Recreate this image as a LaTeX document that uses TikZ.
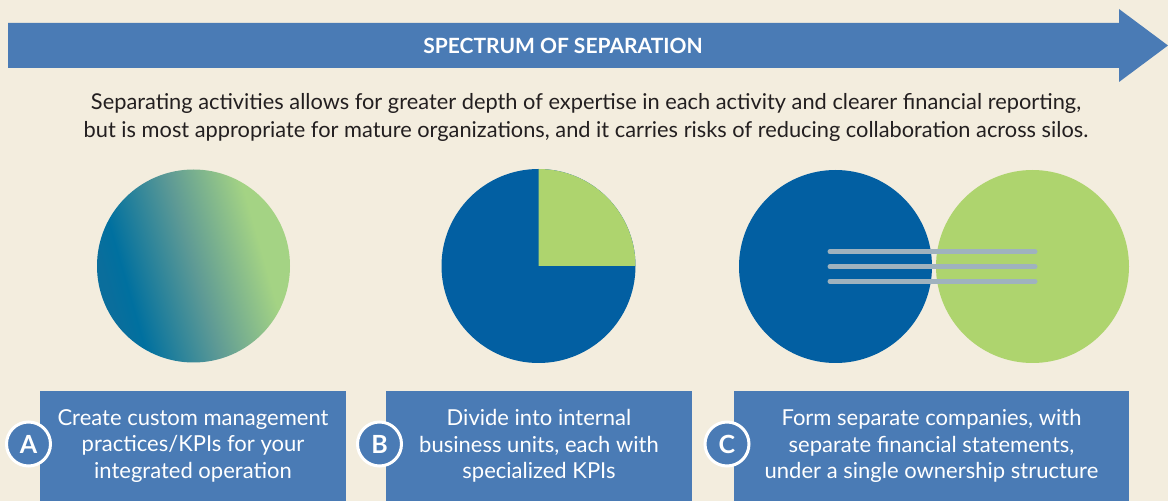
\documentclass[tikz,border=0pt]{standalone}
\usepackage{fontspec}
\setmainfont{Lato}
\definecolor{cream}{HTML}{F3EDDE}
\definecolor{boxblue}{HTML}{4A7BB5}
\definecolor{circblue}{HTML}{025FA2}
\definecolor{circgreen}{HTML}{AED46E}
\definecolor{gradedge}{HTML}{0A6E9C}
\definecolor{gradblue}{HTML}{00709F}
\definecolor{gradmid}{HTML}{5E9A95}
\definecolor{gradgreen}{HTML}{A4D384}
\definecolor{barline}{HTML}{9FB2BE}
\definecolor{ink}{HTML}{231F20}
\pgfdeclarehorizontalshading{sepgrad}{100bp}{color(0bp)=(gradedge); color(27bp)=(gradedge); color(32bp)=(gradblue); color(50bp)=(gradmid); color(68bp)=(gradgreen); color(100bp)=(gradgreen)}
\begin{document}
\begin{tikzpicture}[x=1pt,y=1pt,
  box/.style={fill=boxblue,text=white,minimum height=110pt,inner sep=0pt,align=center,font=\fontsize{22}{26.5}\selectfont},
  tag/.style={circle,fill=boxblue,draw=white,line width=3pt,minimum size=44pt,inner sep=0pt,text=white,font=\fontsize{25}{25}\selectfont\bfseries},
  bar/.style={barline,line width=5pt,line cap=round}]
\fill[cream](0,0) rectangle (1168,501);
\fill[boxblue](8,478)--(1119,478)--(1119,492)--(1168,455.5)--(1119,419)--(1119,433)--(8,433)--cycle;
\node[text=white,font=\fontsize{21}{21}\selectfont\bfseries] (title) at (563,455.5) {SPECTRUM OF SEPARATION};
\node[text=ink,align=center,font=\fontsize{21.8}{28}\selectfont] (intro) at (586,384) {Separating activities allows for greater depth of expertise in each activity and clearer financial reporting,\\but is most appropriate for mature organizations, and it carries risks of reducing collaboration across silos.};
\shade[shading=sepgrad,shading angle=16](193.5,235) circle (96.5);
\fill[circblue](538.5,235) circle (97);
\fill[circgreen](538.5,235)--++(97,0) arc (0:90:97)--cycle;
\fill[circblue](835.5,234.5) circle (96.5);
\fill[circgreen](1032.5,234.5) circle (96.5);
\draw[bar](830,249.3)--(1035,249.3);
\draw[bar](830,234.3)--(1035,234.3);
\draw[bar](830,219.7)--(1035,219.7);
\node[box,minimum width=306pt] (boxA) at (193,55) {Create custom management\\practices/KPIs for your\\integrated operation};
\node[box,minimum width=306pt] (boxB) at (539,55) {Divide into internal\\business units, each with\\specialized KPIs};
\node[box,minimum width=395pt] (boxC) at (931.5,55) {Form separate companies, with\\separate financial statements,\\under a single ownership structure};
\node[tag] (tagA) at (28.5,57) {A};
\node[tag] (tagB) at (379.5,57) {B};
\node[tag] (tagC) at (727,57) {C};
\end{tikzpicture}
\end{document}
